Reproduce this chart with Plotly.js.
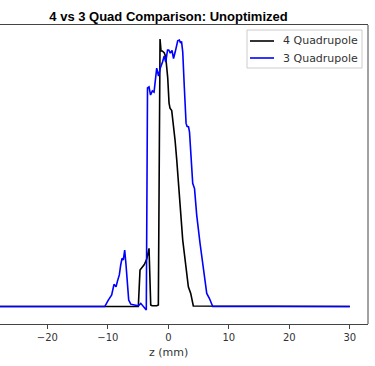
<!DOCTYPE html>
<html>
<head>
<meta charset="utf-8">
<script src="https://cdn.plot.ly/plotly-3.0.1.min.js"></script>
<style>html,body{margin:0;padding:0;background:#fff;}#chart{width:375px;height:366px;}</style>
</head>
<body>
<div id="chart"></div>
<script>
// 4 Quadrupole (black)
const quad4Z = [-30, -4.96, -4.68, -4.40, -3.97, -3.57, -3.19, -2.91, -2.69, -1.92, -1.65, -1.37, -1.21, -0.99, -0.66, -0.43, -0.26, -0.10, 0.12, 0.28, 0.56, 0.83, 1.11, 1.39, 1.65, 1.93, 2.38, 2.68, 2.93, 3.31, 3.70, 4.13, 30];
const quad4Y = [0, 0, 0.136, 0.145, 0.157, 0.177, 0.217, 0.006, 0.003, 0.003, 0.006, 0.998, 0.953, 0.953, 0.946, 0.931, 0.897, 0.853, 0.759, 0.740, 0.731, 0.684, 0.621, 0.547, 0.472, 0.360, 0.248, 0.192, 0.149, 0.074, 0.049, 0.002, 0];
// 3 Quadrupole (blue)
const quad3Z = [-30, -10.51, -9.92, -9.36, -8.98, -8.64, -8.43, -8.10, -7.87, -7.65, -7.44, -7.21, -6.99, -6.78, -6.55, -6.21, -5.50, -4.96, -4.56, -4.23, -3.85, -3.64, -3.44, -3.19, -2.94, -2.64, -2.36, -1.92, -1.62, -1.32, -0.96, -0.68, -0.43, -0.13, 0.07, 0.33, 0.61, 0.86, 1.14, 1.55, 1.82, 2.02, 2.18, 2.38, 2.64, 2.93, 3.09, 3.34, 3.50, 3.75, 4.03, 4.33, 4.69, 5.24, 5.52, 5.90, 6.35, 6.78, 7.17, 7.34, 30];
const quad3Y = [0, 0, 0.024, 0.043, 0.083, 0.074, 0.093, 0.118, 0.155, 0.180, 0.174, 0.211, 0.155, 0.080, 0.024, 0.009, 0.006, 0.003, 0.012, 0.003, -0.006, -0.013, 0.815, 0.819, 0.789, 0.804, 0.800, 0.889, 0.860, 0.890, 0.912, 0.935, 0.912, 0.957, 0.957, 0.945, 0.955, 0.925, 0.950, 0.991, 0.994, 0.983, 0.989, 0.950, 0.820, 0.684, 0.672, 0.670, 0.651, 0.559, 0.460, 0.440, 0.341, 0.236, 0.186, 0.111, 0.049, 0.031, 0.006, 0, 0];
const seriesNames = ["4 Quadrupole", "3 Quadrupole"];
const seriesColors = ["#000000", "#0000ff"];
const xTicks = [-20, -10, 0, 10, 20, 30];
const xTitle = "z (mm)";
const chartTitle = "4 vs 3 Quad Comparison: Unoptimized";

const axisColor = "#444";
const W = 368, H = 299; // plot area size in px
const px = v => v / W;
const py = v => (324 - v) / H;

const traces = [
  {x: quad4Z, y: quad4Y, name: seriesNames[0], type: "scatter", mode: "lines", line: {color: seriesColors[0], width: 1.6}, showlegend: false},
  {x: quad3Z, y: quad3Y, name: seriesNames[1], type: "scatter", mode: "lines", line: {color: seriesColors[1], width: 1.6}, showlegend: false}
];

const legendRows = [41, 58];
const shapes = [
  {type: "line", xref: "paper", yref: "paper", x0: 1, x1: 1, y0: 0, y1: 1, line: {color: axisColor, width: 1}},
  {type: "rect", xref: "paper", yref: "paper", x0: px(247), x1: px(362), y0: py(68), y1: py(30),
   fillcolor: "rgba(255,255,255,0.8)", line: {color: "#cccccc", width: 1}}
];
const annotations = [
  {text: xTitle, xref: "paper", yref: "paper", x: px(168.5), y: py(352), xanchor: "center", yanchor: "middle",
   showarrow: false, font: {family: "DejaVu Sans", size: 11, color: "#333"}}
];
seriesNames.forEach((name, i) => {
  shapes.push({type: "line", xref: "paper", yref: "paper", x0: px(250), x1: px(274), y0: py(legendRows[i]), y1: py(legendRows[i]),
               line: {color: seriesColors[i], width: 1.6}});
  annotations.push({text: name, xref: "paper", yref: "paper", x: px(281), y: py(legendRows[i]), xanchor: "left", yanchor: "middle",
                    showarrow: false, font: {family: "DejaVu Sans", size: 11, color: "#333"}});
});

const layout = {
  width: 375, height: 366,
  margin: {l: 0, r: 7, t: 25, b: 42, pad: 0},
  paper_bgcolor: "#fff", plot_bgcolor: "#fff",
  font: {family: "DejaVu Sans", size: 10, color: "#333"},
  title: {text: "<b>" + chartTitle + "</b>", font: {family: "Liberation Sans", size: 13, color: "#000"},
          x: 168.5/375, xanchor: "center", xref: "container", y: 1 - 16/366, yanchor: "middle", yref: "container"},
  xaxis: {range: [-27.82, 33.0], tickvals: xTicks, ticks: "outside", ticklen: 3.5, tickcolor: axisColor, tickwidth: 1,
          showgrid: false, zeroline: false, showline: true, mirror: true, linecolor: axisColor, linewidth: 1,
          tickfont: {family: "DejaVu Sans", size: 10, color: "#333"}, automargin: false},
  yaxis: {range: [-0.065, 1.050], showticklabels: false, ticks: "", showgrid: false, zeroline: false, showline: false, automargin: false},
  shapes: shapes,
  annotations: annotations,
  showlegend: false
};
Plotly.newPlot("chart", traces, layout, {staticPlot: true, displayModeBar: false});
</script>
</body>
</html>
